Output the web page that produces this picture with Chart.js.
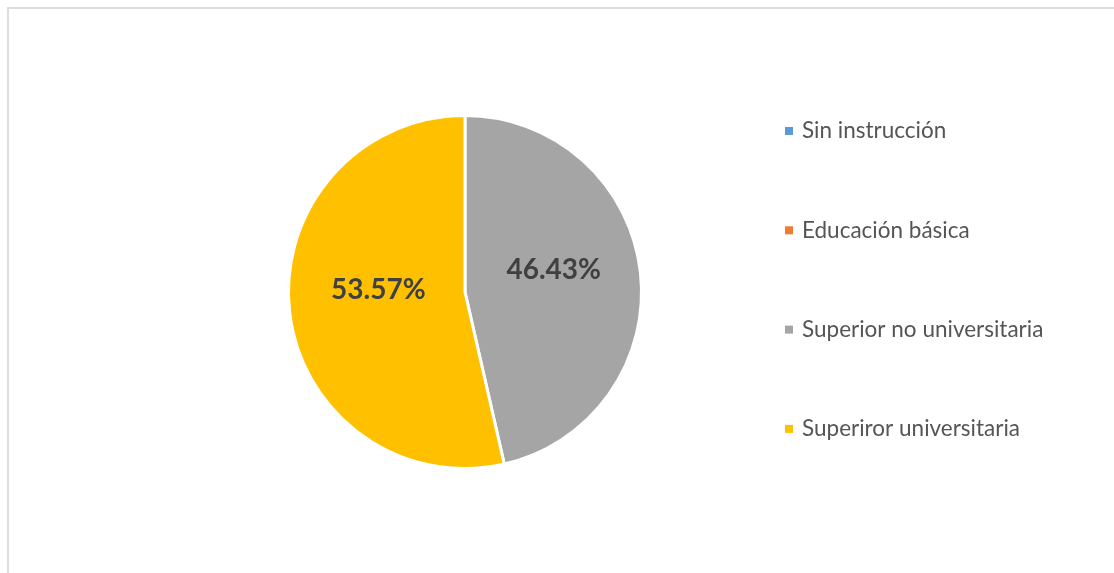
<!DOCTYPE html>
<html>
<head>
<meta charset="utf-8">
<script src="https://cdn.jsdelivr.net/npm/chart.js@4"></script>
<style>
    html, body { margin: 0; padding: 0; background: #fff; }
    #frame {
        position: absolute; left: 7px; top: 7px; right: 0; bottom: 0;
        border-top: 2px solid #dedede; border-left: 2px solid #dedede;
    }
    #wrap { position: absolute; left: 0; top: 0; width: 1114px; height: 573px; }
</style>
</head>
<body>
<div id="frame"></div>
<div id="wrap"><canvas id="eduChart"></canvas></div>
<script>
const categories = ['Sin instrucción', 'Educación básica', 'Superior no universitaria', 'Superiror universitaria'];
const shares = [0, 0, 46.43, 53.57];
const sliceColors = ['#5b9bd5', '#ed7d31', '#a5a5a5', '#ffc000'];

// percentage text inside each non-empty slice
const sliceLabels = {
    id: 'sliceLabels',
    afterDatasetsDraw(chart) {
        const ctx = chart.ctx;
        const meta = chart.getDatasetMeta(0);
        ctx.save();
        ctx.font = 'bold 28px Lato';
        ctx.fillStyle = '#404040';
        ctx.textAlign = 'center';
        ctx.textBaseline = 'middle';
        meta.data.forEach((arc, i) => {
            const v = chart.data.datasets[0].data[i];
            if (!v) return;
            const p = arc.tooltipPosition();
            ctx.fillText(v.toFixed(2) + '%', p.x + 1, p.y - 12);
        });
        ctx.restore();
    }
};

// legend column on the right
const sideLegend = {
    id: 'sideLegend',
    afterDraw(chart) {
        const ctx = chart.ctx;
        const colors = chart.data.datasets[0].backgroundColor;
        ctx.save();
        ctx.font = '22.5px Lato';
        ctx.textBaseline = 'middle';
        chart.data.labels.forEach((label, i) => {
            const y = 131 + i * 99.3;
            ctx.fillStyle = colors[i];
            ctx.fillRect(785, y - 4, 8, 8);
            ctx.fillStyle = '#555555';
            ctx.fillText(label, 802, y);
        });
        ctx.restore();
    }
};

new Chart(document.getElementById('eduChart'), {
    type: 'pie',
    data: {
        labels: categories,
        datasets: [{
            data: shares,
            backgroundColor: sliceColors,
            borderColor: '#ffffff',
            borderWidth: 3
        }]
    },
    options: {
        responsive: true,
        maintainAspectRatio: false,
        animation: false,
        layout: {
            padding: { left: 0, right: 184, top: 114, bottom: 103 }
        },
        plugins: {
            legend: { display: false },
            tooltip: { enabled: false }
        }
    },
    plugins: [sliceLabels, sideLegend]
});
</script>
</body>
</html>
